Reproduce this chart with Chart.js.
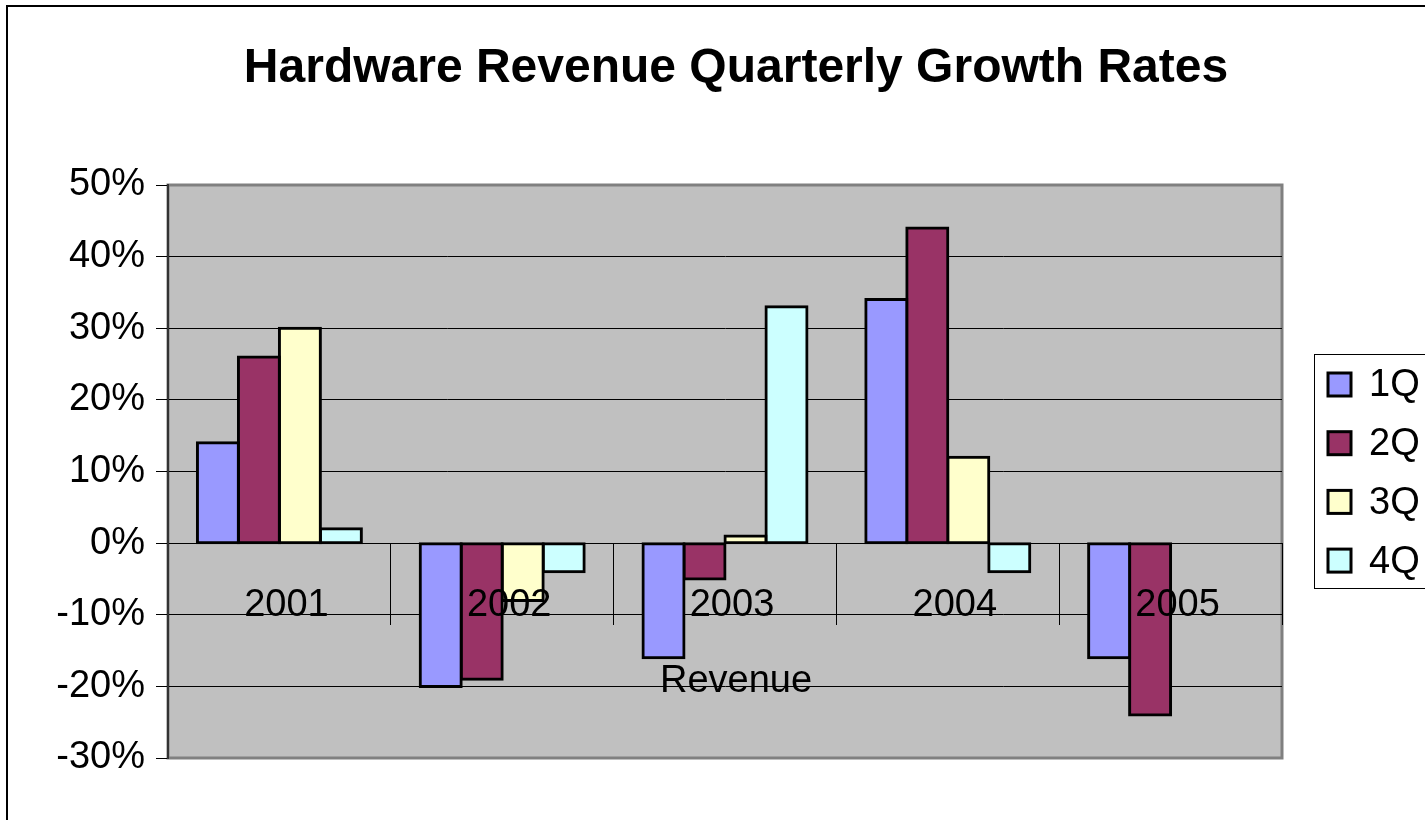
<!DOCTYPE html>
<html>
<head>
<meta charset="utf-8">
<script src="https://cdn.jsdelivr.net/npm/chart.js@4.4.1/dist/chart.umd.min.js"></script>
<style>
  html, body { margin: 0; padding: 0; background: #fff; overflow: hidden; }
  #wrap { width: 1472px; height: 840px; }
</style>
</head>
<body>
<div id="wrap"><canvas id="chart" width="1472" height="840"></canvas></div>
<script>
// data (percent)
const years = ['2001', '2002', '2003', '2004', '2005'];
const quarters = ['1Q', '2Q', '3Q', '4Q'];
const q1 = [14, -20, -16, 34, -16];
const q2 = [26, -19, -5, 44, -24];
const q3 = [30, -8, 1, 12, null];
const q4 = [2, -4, 33, -4, null];
const quarterColors = ['#9999FF', '#993366', '#FFFFCC', '#CCFFFF'];
const yMin = -30, yMax = 50, yStep = 10;

const FONT = "'Liberation Sans', Arial, sans-serif";

// gray plot area + borders
const plotBg = {
  id: 'plotBg',
  beforeDraw(chart) {
    const { ctx, chartArea: a } = chart;
    ctx.save();
    ctx.fillStyle = '#C0C0C0';
    ctx.fillRect(a.left, a.top, a.right - a.left, a.bottom - a.top);
    ctx.strokeStyle = '#808080';
    ctx.lineWidth = 3;
    ctx.strokeRect(a.left, a.top, a.right - a.left, a.bottom - a.top);
    // outer chart border (right/bottom edges fall outside the window)
    ctx.strokeStyle = '#000';
    ctx.lineWidth = 2;
    ctx.strokeRect(7, 6, 1600, 1000);
    ctx.restore();
  }
};

// axis title + legend box like the old office chart
const extras = {
  id: 'extras',
  afterDraw(chart) {
    const { ctx, chartArea: a, scales } = chart;
    ctx.save();
    ctx.fillStyle = '#000';
    ctx.font = '38px ' + FONT;
    ctx.textAlign = 'center';
    ctx.textBaseline = 'middle';
    const zero = scales.y.getPixelForValue(0);
    ctx.fillText('Revenue', (a.left + a.right) / 2 + 11, zero + 138);

    // legend
    const lx = 1314, ly = 354, lh = 234;
    ctx.strokeStyle = '#000';
    ctx.lineWidth = 1;
    ctx.strokeRect(lx + 0.5, ly + 0.5, 300, lh);
    ctx.textAlign = 'left';
    chart.data.datasets.forEach((ds, i) => {
      const cy = 385 + i * 58.7;
      ctx.fillStyle = ds.backgroundColor;
      ctx.fillRect(1328, cy - 12, 23, 23);
      ctx.lineWidth = 3;
      ctx.strokeRect(1328, cy - 12, 23, 23);
      ctx.fillStyle = '#000';
      ctx.fillText(ds.label, 1369, cy + 1);
    });
    ctx.restore();
  }
};

const datasets = [q1, q2, q3, q4].map((vals, i) => ({
  label: quarters[i],
  data: vals,
  backgroundColor: quarterColors[i],
  borderColor: '#000',
  borderWidth: 3,
  borderSkipped: false,
  inflateAmount: 1.5,
  categoryPercentage: 0.736,
  barPercentage: 1
}));

new Chart(document.getElementById('chart'), {
  type: 'bar',
  data: { labels: years, datasets: datasets },
  plugins: [plotBg, extras],
  options: {
    responsive: false,
    animation: false,
    layout: { padding: { left: 0, right: 0, top: 0, bottom: 82 } },
    plugins: {
      legend: { display: false },
      tooltip: { enabled: false },
      title: {
        display: true,
        text: 'Hardware Revenue Quarterly Growth Rates',
        color: '#000',
        font: { family: FONT, size: 48, weight: 'bold' },
        padding: { top: 40, bottom: 87.4 }
      }
    },
    scales: {
      x: {
        position: { y: 0 },
        grid: {
          offset: true,
          drawOnChartArea: false,
          drawTicks: true,
          tickLength: 82,
          color: '#000',
          lineWidth: 1
        },
        border: { display: false },
        ticks: {
          z: 1,
          color: '#000',
          font: { family: FONT, size: 38 },
          padding: -42,
          labelOffset: 7,
          maxRotation: 0,
          autoSkip: false
        }
      },
      y: {
        min: yMin,
        max: yMax,
        afterFit(scale) { scale.width = 168; },
        grid: {
          color: ctx => (ctx.tick && (ctx.tick.value === yMax || ctx.tick.value === yMin)) ? 'rgba(0,0,0,0)' : '#000',
          tickColor: '#000',
          tickLength: 12,
          lineWidth: 1
        },
        border: { display: true, color: '#333', width: 2 },
        ticks: {
          stepSize: yStep,
          color: '#000',
          padding: 11,
          font: { family: FONT, size: 38 },
          callback: v => v + '%'
        }
      },
      // empty right-hand axis only reserves the legend's room
      yRight: {
        position: 'right',
        afterFit(scale) { scale.width = 190; },
        grid: { display: false },
        border: { display: false },
        ticks: { display: false }
      }
    }
  }
});
</script>
</body>
</html>
